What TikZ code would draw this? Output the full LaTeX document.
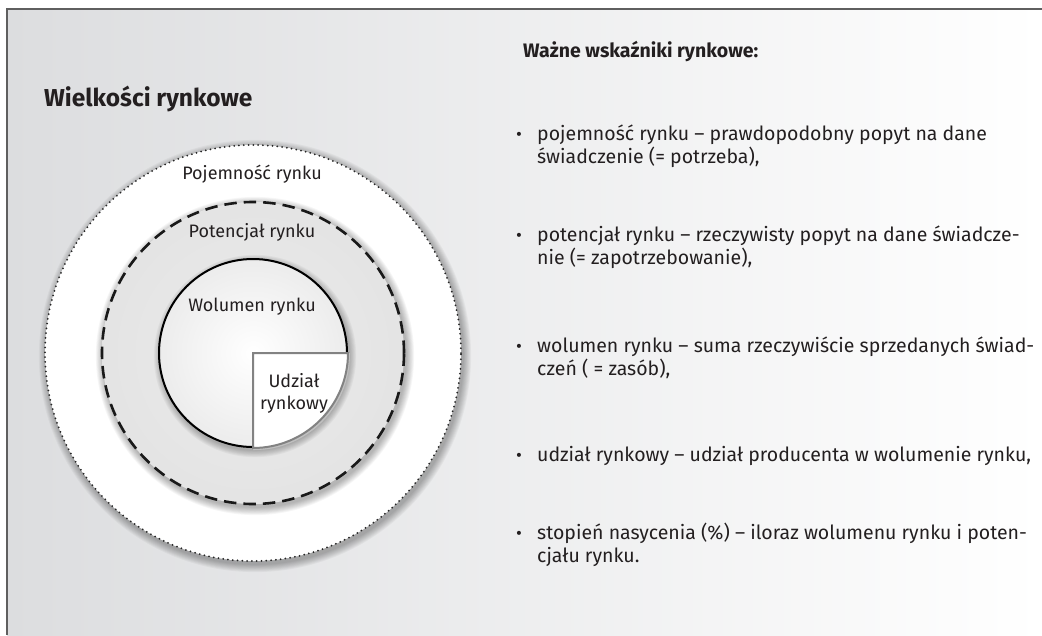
\documentclass[tikz,border=0pt]{standalone}
\usepackage{fontspec}
\setmainfont{Fira Sans}
\definecolor{bgL}{RGB}{220,221,223}
\definecolor{framec}{RGB}{95,95,95}
\definecolor{txt}{RGB}{35,31,32}
\definecolor{ringA}{RGB}{236,236,236}
\definecolor{ringB}{RGB}{226,226,226}
\definecolor{ringC}{RGB}{214,214,214}
\definecolor{volA}{RGB}{255,255,255}
\definecolor{volB}{RGB}{236,236,236}
\definecolor{volC}{RGB}{208,208,208}
\definecolor{quadc}{RGB}{130,130,130}
\pgfdeclareradialshading{ringsh}{\pgfpoint{0bp}{0bp}}{color(0bp)=(ringA); color(30bp)=(ringB); color(50bp)=(ringC)}
\pgfdeclareradialshading{volsh}{\pgfpoint{0bp}{0bp}}{color(0bp)=(volA); color(25bp)=(volB); color(50bp)=(volC)}
\begin{document}
\begin{tikzpicture}[x=1pt,y=-1pt,
  lbl/.style={font=\fontsize{18}{22}\selectfont, text=txt, inner sep=0pt},
  body/.style={font=\fontsize{19.5}{23}\selectfont, anchor=base west, align=left, inner sep=0pt, text=txt},
  bul/.style={font=\fontsize{18}{21}\selectfont, inner sep=0pt, text=txt},
  hdr/.style={font=\bfseries\fontsize{19.5}{23}\selectfont, anchor=base west, inner sep=0pt, text=txt},
  shad/.style={fill=black, opacity=0.035}]
\useasboundingbox (0,0) rectangle (1042,635);
% background
\shade[left color=bgL, right color=white] (7,9) rectangle (1042,635);
\draw[framec, line width=1.4pt] (7,635) -- (7,9) -- (1042,9);
% title
\node[anchor=base west, inner sep=0pt, text=txt, font=\bfseries\fontsize{24.5}{28}\selectfont] (ttl) at (44,106) {Wielkości rynkowe};
% outer dotted circle (Pojemność)
\coordinate (c) at (253,353);
\foreach \i in {1,...,9}{
  \pgfmathsetmacro\rr{208+\i*0.9}
  \fill[shad] ([shift={(2,3)}]c) circle[radius=\rr pt];
}
\fill[white] (c) circle[radius=208pt];
\draw[black!85, line width=2pt, line cap=round, dash pattern=on 0pt off 4.8pt] (c) circle[radius=208pt];
% dashed circle (Potencjał)
\foreach \i in {1,...,9}{
  \pgfmathsetmacro\rr{151+\i*0.9}
  \fill[shad] ([shift={(2,3)}]c) circle[radius=\rr pt];
}
\shade[shading=ringsh] (c) circle[radius=151pt];
\draw[black!90, line width=2.6pt, dash pattern=on 12.5pt off 7pt] (c) circle[radius=151pt];
% inner circle (Wolumen)
\foreach \i in {1,...,8}{
  \pgfmathsetmacro\rr{94+\i*0.9}
  \fill[shad] ([shift={(2,3)}]c) circle[radius=\rr pt];
}
\shade[shading=volsh] (c) circle[radius=94pt];
\draw[black, line width=2pt] (c) circle[radius=94pt];
% quadrant (Udział rynkowy)
\draw[black!25, line width=3pt] ([shift={(1.5,1.5)}]c) -- ++(94,0) arc[start angle=0, end angle=-90, radius=94pt] -- cycle;
\filldraw[fill=white, draw=quadc, line width=2pt] (c) -- ++(95,0) arc[start angle=0, end angle=-90, radius=95pt] -- cycle;
% circle labels
\node[lbl] (pojL) at (252,174) {Pojemność rynku};
\node[lbl] (potL) at (252,232) {Potencjał rynku};
\node[lbl] (wolL) at (252,307) {Wolumen rynku};
\node[lbl, align=center] (udzL) at (294,393) {Udział\\rynkowy};
% right column
\node[hdr] (hdrL) at (523,57) {Ważne wskaźniki rynkowe:};
\node[bul] (b1) at (519,136) {•};
\node[body] (i1) at (537,163) {pojemność rynku – prawdopodobny popyt na dane\\świadczenie (= potrzeba),};
\node[bul] (b2) at (519,237) {•};
\node[body] (i2) at (537,264) {potencjał rynku – rzeczywisty popyt na dane świadcze-\\nie (= zapotrzebowanie),};
\node[bul] (b3) at (519,348) {•};
\node[body] (i3) at (537,375) {wolumen rynku – suma rzeczywiście sprzedanych świad-\\czeń ( = zasób),};
\node[bul] (b4) at (519,457) {•};
\node[body] (i4) at (537,461) {udział rynkowy – udział producenta w wolumenie rynku,};
\node[bul] (b5) at (519,535) {•};
\node[body] (i5) at (537,562) {stopień nasycenia (\%) – iloraz wolumenu rynku i poten-\\cjału rynku.};
\end{tikzpicture}
\end{document}
